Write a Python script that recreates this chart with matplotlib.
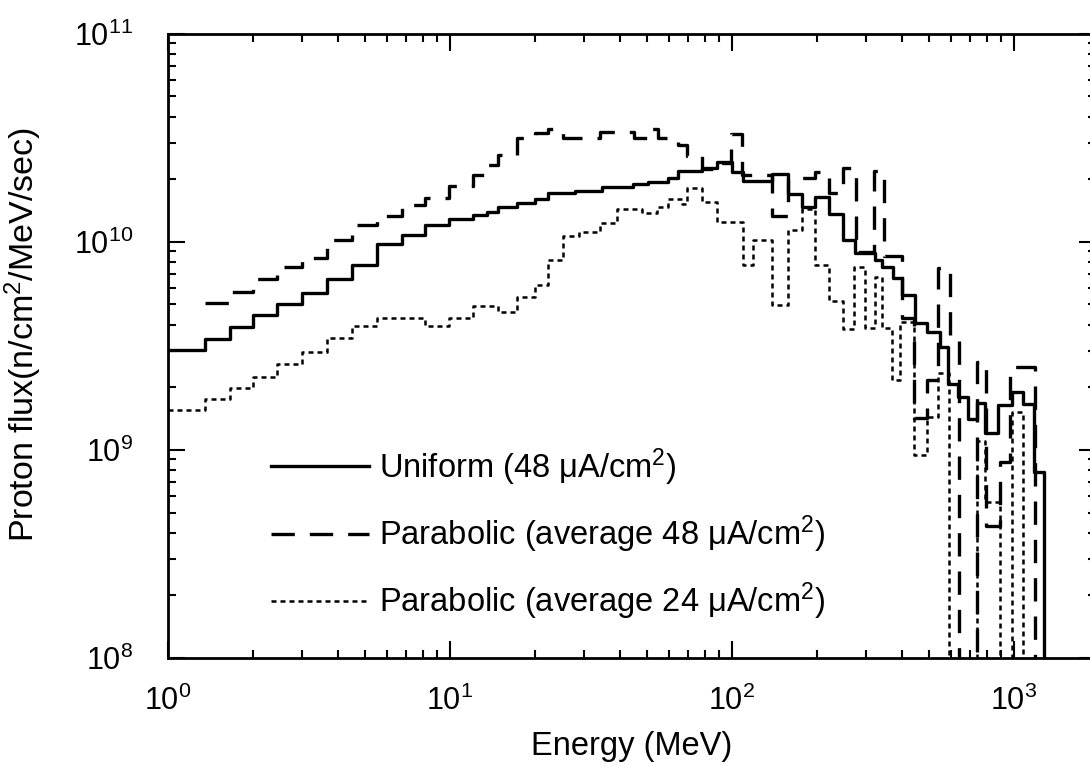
import numpy as np
import matplotlib
matplotlib.use("Agg")
import matplotlib.pyplot as plt

plt.rcParams['font.family'] = ['Liberation Sans', 'DejaVu Sans']
plt.rcParams['mathtext.fontset'] = 'custom'
plt.rcParams['mathtext.rm'] = 'Liberation Sans'
plt.rcParams['mathtext.it'] = 'Liberation Sans:italic'
plt.rcParams['mathtext.bf'] = 'Liberation Sans:bold'

FLOOR = 1e7  # below the axis -> bin is empty

# Uniform (48 uA/cm2) -- bin edges (MeV) and flux
uni_edges = [1.0, 1.353, 1.659, 2.0, 2.435, 2.988, 3.664, 4.493, 5.511, 6.757, 8.153,
             9.92, 12.06, 13.53, 14.80, 17.28, 20.02, 22.26, 27.76, 34.59, 44.56,
             50.37, 59.29, 64.36, 78.27, 88.49, 100, 109.4, 138.7, 157.9, 177.1,
             197.0, 220.8, 247.5, 273.1, 321.5, 340.4, 372.3, 400.6, 445.6, 491.4,
             546.6, 583.4, 633.0, 686.9, 739.2, 789.1, 877.7, 983.8, 1076, 1177, 1278]
uni_flux = [3.03e9, 3.42e9, 3.9e9, 4.46e9, 5.03e9, 5.69e9, 6.64e9, 7.75e9, 9.78e9, 1.08e10,
            1.21e10, 1.29e10, 1.35e10, 1.39e10, 1.47e10, 1.54e10, 1.61e10, 1.71e10, 1.76e10,
            1.84e10, 1.90e10, 1.94e10, 2.03e10, 2.19e10, 2.27e10, 2.42e10, 2.17e10, 1.96e10,
            2.12e10, 1.70e10, 1.47e10, 1.64e10, 1.36e10, 1.02e10, 8.86e9, 8.19e9, 7.59e9,
            6.71e9, 5.56e9, 4.08e9, 3.69e9, 3.12e9, 2.08e9, 1.8e9, 1.4e9, 1.68e9, 1.2e9,
            1.64e9, 1.9e9, 1.66e9, 7.8e8]

# Parabolic (average 48 uA/cm2)
p48_edges = [1.353, 1.659, 2.0, 2.435, 2.988, 3.664, 4.493, 5.511, 6.757, 8.153, 9.92,
             12.06, 13.53, 14.80, 17.28, 20.02, 22.26, 25.16, 34.0, 44.9, 50.4, 54.6,
             64.4, 69.2, 78.27, 88.49, 99.2, 108.5, 138.7, 157.9, 177.1, 197.0, 220.8,
             247.5, 275.3, 318.9, 346.0, 400.6, 441.7, 491.4, 537.7, 593.0, 638.0,
             739.2, 795.6, 892.0, 967.9, 1187]
p48_flux = [5.09e9, 5.75e9, 6.64e9, 7.59e9, 8.4e9, 1.02e10, 1.2e10, 1.33e10, 1.51e10,
            1.63e10, 1.85e10, 2.10e10, 2.34e10, 2.62e10, 3.16e10, 3.35e10, 3.5e10, 3.16e10,
            3.37e10, 3.16e10, 3.5e10, 3.16e10, 2.92e10, 2.59e10, 2.25e10, 2.4e10, 3.3e10,
            2.1e10, 1.33e10, 2.0e10, 2.03e10, 2.17e10, 1.72e10, 2.27e10, 8.9e9, 2.2e10,
            8.5e9, 4.3e9, 1.42e9, 2.17e9, 7.5e9, 3.5e9, FLOOR, 2.65e9, 4.3e8, 8.75e8, 2.5e9]

# Parabolic (average 24 uA/cm2)
p24_edges = [1.0, 1.353, 1.659, 2.0, 2.435, 2.988, 3.664, 4.493, 5.511, 8.153, 9.92,
             12.06, 14.80, 17.28, 20.02, 22.26, 25.16, 28.67, 34.0, 39.1, 47.97, 54.2,
             59.3, 66.5, 69.2, 78.27, 88.49, 109.4, 118.7, 138.7, 157.9, 177.1, 197.0,
             220.8, 247.5, 270.8, 296.3, 321.5, 340.4, 370.0, 394.0, 441.7, 491.4, 537.0,
             588.0, 739.2, 789.1, 891.0, 983.8, 1076]
p24_flux = [1.56e9, 1.76e9, 1.99e9, 2.24e9, 2.59e9, 2.96e9, 3.45e9, 3.95e9, 4.32e9, 3.95e9,
            4.32e9, 4.92e9, 4.61e9, 5.44e9, 6.21e9, 8.2e9, 1.07e10, 1.12e10, 1.23e10, 1.43e10,
            1.38e10, 1.47e10, 1.61e10, 1.52e10, 1.82e10, 1.56e10, 1.25e10, 7.75e9, 1.02e10,
            4.98e9, 1.14e10, 1.43e10, 7.75e9, 5.2e9, 3.82e9, 7.6e9, 3.87e9, 6.8e9, 3.87e9,
            2.17e9, 4.12e9, 9.5e8, 1.44e9, 2.34e9, FLOOR, 1.1e9, 5.6e8, FLOOR, 1.52e9]


def step_xy(edges, flux):
    # step path: each bin is flat, and the last edge drops out of the plot
    return np.asarray(edges), np.append(flux, FLOOR)


fig = plt.figure(figsize=(10.9, 7.66), dpi=100)
# right spine sits just past the image edge, as in the scan
ax = fig.add_axes([0.154, 0.141, 0.8515, 0.815])

x, y = step_xy(uni_edges, uni_flux)
ax.step(x, y, where='post', color='black', lw=2.4, label='Uniform (48 μA/cm$^2$)')
x, y = step_xy(p48_edges, p48_flux)
ax.step(x, y, where='post', color='black', lw=2.4, dashes=(7.0, 4.5),
        label='Parabolic (average 48 μA/cm$^2$)')
x, y = step_xy(p24_edges, p24_flux)
ax.step(x, y, where='post', color='black', lw=1.8, dashes=(2.0, 1.6),
        label='Parabolic (average 24 μA/cm$^2$)')

ax.set_xscale('log')
ax.set_yscale('log')
ax.set_xlim(1, 1954)
ax.set_ylim(1e8, 1e11)

ax.set_xlabel('Energy (MeV)', fontsize=23.5, labelpad=10)
ax.set_ylabel('Proton flux(n/cm$^2$/MeV/sec)', fontsize=24.5)
ax.yaxis.set_label_coords(-0.133, 0.518)
ax.tick_params(which='both', direction='in', top=True, right=True, labelsize=22, width=1.5)
ax.tick_params(which='major', length=12)
ax.tick_params(which='minor', length=6)
ax.tick_params(axis='x', which='major', pad=20)
ax.tick_params(axis='y', which='major', pad=25)
for s in ax.spines.values():
    s.set_linewidth(2)

leg = ax.legend(loc='lower left', bbox_to_anchor=(0.08, 0.01), frameon=False, fontsize=23.5,
                handlelength=3.0, handletextpad=0.3, labelspacing=0.79)

fig.savefig('out.png', dpi=100)
